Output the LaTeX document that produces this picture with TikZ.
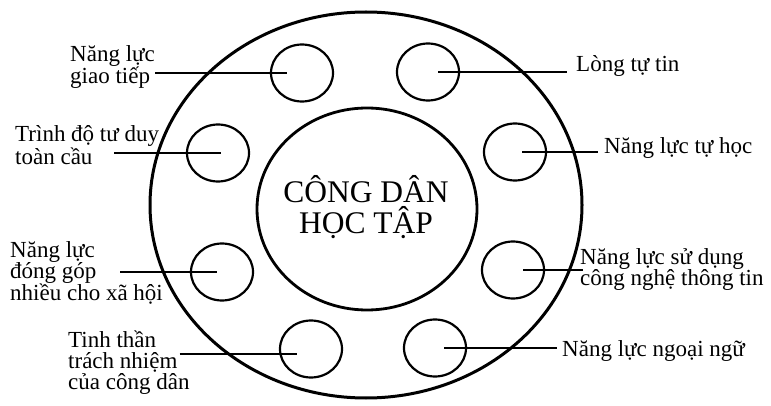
\documentclass[tikz,border=0pt]{standalone}
\usepackage{fontspec}
\setmainfont{Liberation Serif}
\usetikzlibrary{shapes.geometric}
\tikzset{
  ring/.style={draw, ellipse, line width=2.2pt, minimum width=62pt, minimum height=57pt, inner sep=0pt},
  lbl/.style={align=left, anchor=west, inner sep=0pt, font=\fontsize{23}{21}\selectfont},
  link/.style={line width=1.9pt}
}
\begin{document}
\begin{tikzpicture}[x=1pt, y=-1pt]
  \useasboundingbox (0,0) rectangle (771,406);
  \node[draw, ellipse, line width=3pt, minimum width=432pt, minimum height=386pt, inner sep=0pt] (outer) at (366,205) {};
  \node[draw, ellipse, line width=2.8pt, minimum width=220pt, minimum height=202pt, inner sep=0pt] (core) at (367,209) {};
  \node[align=center, inner sep=0pt, font=\fontsize{31.5}{31}\selectfont] (title) at (366,207) {CÔNG DÂN\\HỌC TẬP};

  % small rings
  \node[ring] (c1) at (302,73) {};
  \node[ring] (c2) at (428,72) {};
  \node[ring] (c3) at (218,153) {};
  \node[ring] (c4) at (515,152) {};
  \node[ring] (c5) at (222,272) {};
  \node[ring] (c6) at (513,270) {};
  \node[ring] (c7) at (311,349) {};
  \node[ring] (c8) at (435,348) {};

  % labels
  \node[lbl] (l1) at (70,67) {Năng lực\\giao tiếp};
  \node[lbl] (l2) at (576,66) {Lòng tự tin};
  \node[lbl] (l3) at (15,145) {Trình độ tư duy\\toàn cầu};
  \node[lbl] (l4) at (604,148) {Năng lực tự học};
  \node[lbl] (l5) at (10,273) {Năng lực\\đóng góp\\nhiều cho xã hội};
  \node[lbl] (l6) at (580,270) {Năng lực sử dụng\\công nghệ thông tin};
  \node[lbl] (l7) at (68,363) {Tinh thần\\trách nhiệm\\của công dân};
  \node[lbl] (l8) at (562,351) {Năng lực ngoại ngữ};

  \draw[link] (l1.east |- c1.center) -- ([xshift=-15pt]c1.center);
  \draw[link] ([xshift=10pt]c2.center) -- ([xshift=-9pt]l2.west |- c2.center);
  \draw[link] ([xshift=-45pt]l3.east |- c3.center) -- ([xshift=3pt]c3.center);
  \draw[link] ([xshift=7pt]c4.center) -- ([xshift=-6pt]l4.west |- c4.center);
  \draw[link] ([xshift=-43pt]l5.east |- c5.center) -- ([xshift=-5pt]c5.center);
  \draw[link] ([xshift=10pt]c6.center) -- ([xshift=3pt]l6.west |- c6.center);
  \draw[link] ([xshift=-10pt,yshift=-5pt]l7.east |- c7.center) -- ([xshift=-14pt,yshift=-5pt]c7.center);
  \draw[link] ([xshift=9pt]c8.center) -- ([xshift=-5pt]l8.west |- c8.center);
\end{tikzpicture}
\end{document}
